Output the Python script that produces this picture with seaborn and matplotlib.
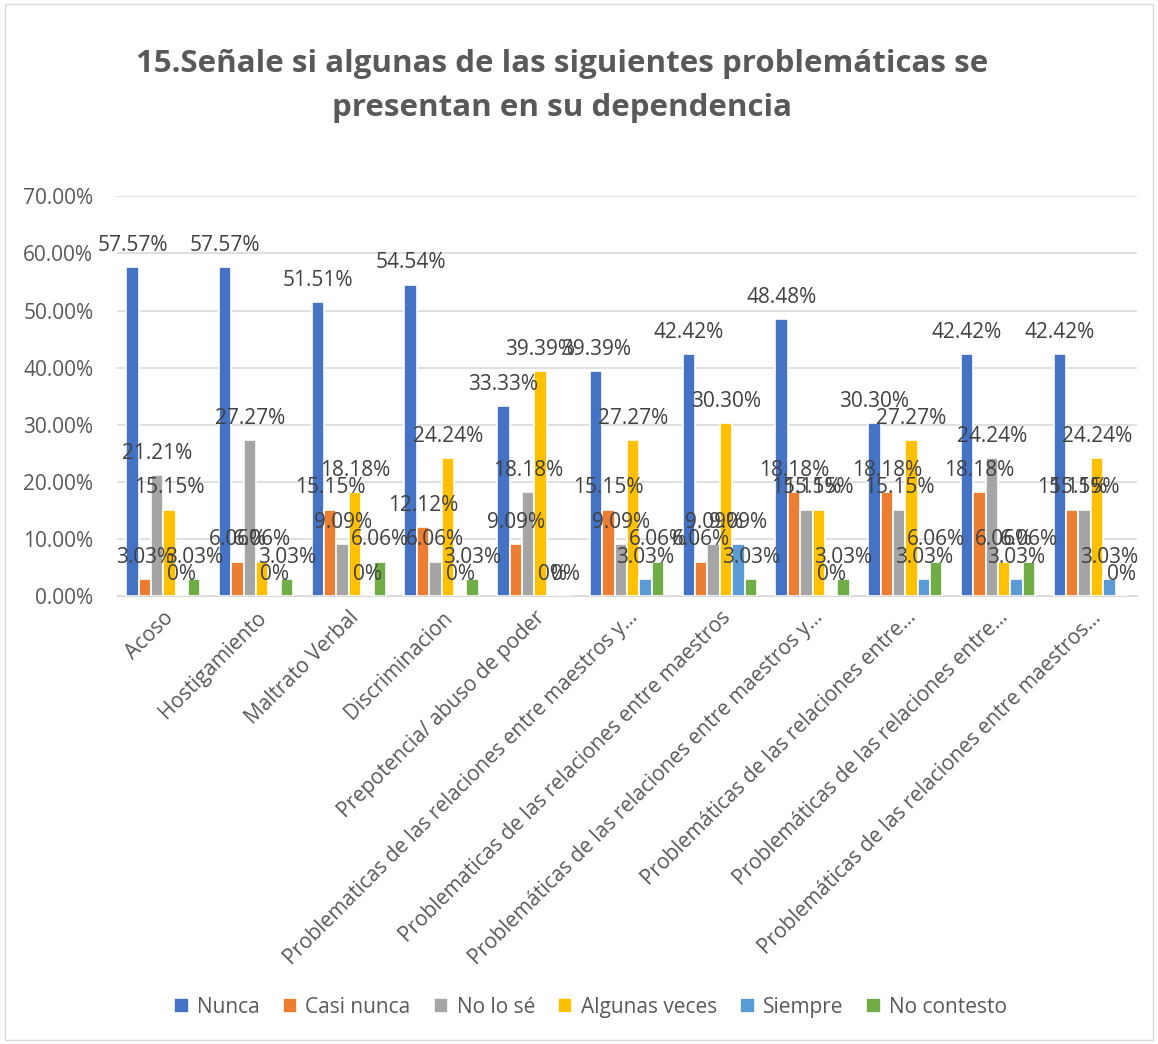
import numpy as np
import pandas as pd
import seaborn as sns
import matplotlib.pyplot as plt
from matplotlib.patches import Rectangle

categorias = [
    "Acoso",
    "Hostigamiento",
    "Maltrato Verbal",
    "Discriminacion",
    "Prepotencia/ abuso de poder",
    "Problematicas de las relaciones entre maestros y…",
    "Problematicas de las relaciones entre maestros",
    "Problemáticas de las relaciones entre maestros y…",
    "Problemáticas de las relaciones entre…",
    "Problemáticas de las relaciones entre…",
    "Problemáticas de las relaciones entre maestros…",
]
respuestas = ["Nunca", "Casi nunca", "No lo sé", "Algunas veces", "Siempre", "No contesto"]

nunca = [57.57, 57.57, 51.51, 54.54, 33.33, 39.39, 42.42, 48.48, 30.30, 42.42, 42.42]
casi_nunca = [3.03, 6.06, 15.15, 12.12, 9.09, 15.15, 6.06, 18.18, 18.18, 18.18, 15.15]
no_lo_se = [21.21, 27.27, 9.09, 6.06, 18.18, 9.09, 9.09, 15.15, 15.15, 24.24, 15.15]
algunas_veces = [15.15, 6.06, 18.18, 24.24, 39.39, 27.27, 30.30, 15.15, 27.27, 6.06, 24.24]
siempre = [0, 0, 0, 0, 0, 3.03, 9.09, 0, 3.03, 3.03, 3.03]
no_contesto = [3.03, 3.03, 6.06, 3.03, 0, 6.06, 3.03, 3.03, 6.06, 6.06, 0]

colores = ["#4472C4", "#ED7D31", "#A5A5A5", "#FFC000", "#5B9BD5", "#70AD47"]

series = [nunca, casi_nunca, no_lo_se, algunas_veces, siempre, no_contesto]
filas = []
for resp, vals in zip(respuestas, series):
    for i, v in enumerate(vals):
        filas.append({"pos": i, "respuesta": resp, "valor": v / 100})
df = pd.DataFrame(filas)

sns.set_style("white")
plt.rcParams["font.family"] = ["Open Sans", "DejaVu Sans"]
texto = "#595959"

fig = plt.figure(figsize=(11.58, 10.44), dpi=100)
ax = fig.add_axes([0.101, 0.429, 0.881, 0.383])

sns.barplot(data=df, x="pos", y="valor", hue="respuesta", hue_order=respuestas,
            palette=colores, width=0.8, edgecolor="white", linewidth=1.2,
            saturation=1, ax=ax)

# etiquetas encima de cada barra, como en Excel
for cont, vals in zip(ax.containers, series):
    etiquetas = [f"{v:.2f}%" if v else "0%" for v in vals]
    ax.bar_label(cont, labels=etiquetas, padding=8, fontsize=15, color="#404040")

ax.set_ylim(0, 0.70)
ax.set_yticks(np.arange(0, 0.71, 0.10))
ax.set_yticklabels([f"{t*100:.2f}%" for t in np.arange(0, 0.71, 0.10)], fontsize=15, color=texto)
ax.set_xticks(range(len(categorias)))
ax.set_xticklabels(categorias, rotation=45, ha="right", rotation_mode="anchor",
                   fontsize=15, color=texto)
ax.tick_params(axis="y", length=0, pad=17)
ax.tick_params(axis="x", length=0, pad=8)
ax.set_xlabel("")
ax.set_ylabel("")
ax.grid(axis="y", color="#D9D9D9", linewidth=1.2)
ax.set_axisbelow(True)
for s in ["top", "right", "left"]:
    ax.spines[s].set_visible(False)
ax.spines["bottom"].set_color("#D9D9D9")

handles, labels = ax.get_legend_handles_labels()
ax.get_legend().remove()
fig.legend(handles, labels, loc="center", bbox_to_anchor=(0.51, 0.035), ncol=6,
           frameon=False, fontsize=15, handlelength=0.7, handleheight=0.7,
           handletextpad=0.4, columnspacing=1.1, labelcolor=texto)

fig.text(0.485, 0.9175, "15.Señale si algunas de las siguientes problemáticas se\npresentan en su dependencia",
         ha="center", va="center", fontsize=22.5, fontweight="bold", color=texto, linespacing=1.62)

fig.patches.append(Rectangle((0.004, 0.004), 0.992, 0.992, transform=fig.transFigure,
                             fill=False, edgecolor="#D9D9D9", linewidth=1))

fig.savefig("out.png", dpi=100)
